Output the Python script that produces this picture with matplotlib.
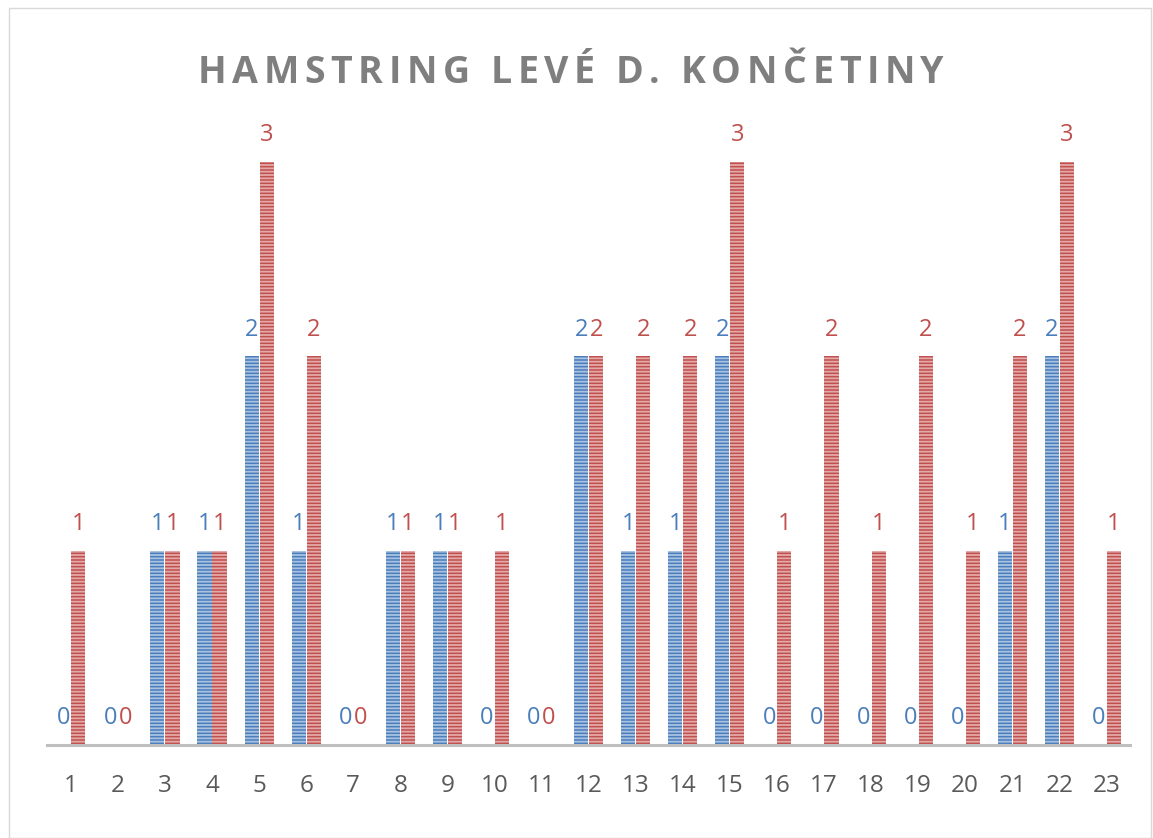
import matplotlib.pyplot as plt
from matplotlib.patches import Rectangle
from matplotlib.textpath import TextPath
from matplotlib.font_manager import FontProperties
import numpy as np

# data
categories = [str(i) for i in range(1, 24)]
blue_vals = [0, 0, 1, 1, 2, 1, 0, 1, 1, 0, 0, 2, 1, 1, 2, 0, 0, 0, 0, 0, 1, 2, 0]
red_vals = [1, 0, 1, 1, 3, 2, 0, 1, 1, 1, 0, 2, 2, 2, 3, 1, 2, 1, 2, 1, 2, 3, 1]
title = 'HAMSTRING LEVÉ D. KONČETINY'

blue = '#4A7EBB'
red = '#C0504D'
fam = ['Open Sans', 'DejaVu Sans']

plt.rcParams['hatch.linewidth'] = 1.3

fig = plt.figure(figsize=(11.53, 8.38), dpi=100)
ax = fig.add_axes([0.041, 0.111, 0.939, 0.742])

x = np.arange(1, len(categories) + 1)
w = 0.3
off = 0.16

ax.bar(x - off, blue_vals, w, color=blue, edgecolor='#A9C2E2', linewidth=0, hatch='-----')
ax.bar(x + off, red_vals, w, color=red, edgecolor='#E3A9A8', linewidth=0, hatch='-----')

# popisky hodnot nad sloupci
for xi, v in zip(x - off, blue_vals):
    ax.text(xi, v + 0.075, str(v), ha='center', va='bottom', color=blue, fontsize=17, family=fam)
for xi, v in zip(x + off, red_vals):
    ax.text(xi, v + 0.075, str(v), ha='center', va='bottom', color=red, fontsize=17, family=fam)

ax.set_xlim(0.5, 23.5)
ax.set_ylim(0, 3.2)
ax.set_xticks(x)
ax.set_xticklabels(categories, fontsize=17.5, color='#595959', family=fam)
ax.tick_params(axis='x', length=0, pad=21)
ax.set_yticks([])
for s in ['top', 'right', 'left']:
    ax.spines[s].set_visible(False)
ax.spines['bottom'].set_color('#BFBFBF')
ax.spines['bottom'].set_linewidth(2.2)

# title with letter spacing: place each character separately
fp = FontProperties(family='Open Sans', weight='bold', size=27)
spacing = 5.6  # px between letters
px_per_pt = fig.dpi / 72.0
widths = []
for ch in title:
    if ch == ' ':
        widths.append(TextPath((0, 0), 'a a', prop=fp).get_extents().width * px_per_pt
                      - TextPath((0, 0), 'aa', prop=fp).get_extents().width * px_per_pt)
    else:
        adv = (TextPath((0, 0), ch + 'I', prop=fp).get_extents().x1
               - TextPath((0, 0), 'I', prop=fp).get_extents().x1) * px_per_pt
        widths.append(adv)
total = sum(widths) + spacing * (len(title) - 1)
cx = 0.495 * fig.bbox.width
xpos = cx - total / 2
ty = 0.913
for ch, cw in zip(title, widths):
    if ch != ' ':
        fig.text(xpos / fig.bbox.width, ty, ch, ha='left', va='center', fontproperties=fp,
                 color='#7F7F7F')
    xpos += cw + spacing

# rámeček grafu
fig.patches.append(Rectangle((0.008, 0.0), 0.99, 0.99, transform=fig.transFigure,
                             fill=False, edgecolor='#D9D9D9', linewidth=1))

fig.savefig('out.png', dpi=100)
plt.close()
